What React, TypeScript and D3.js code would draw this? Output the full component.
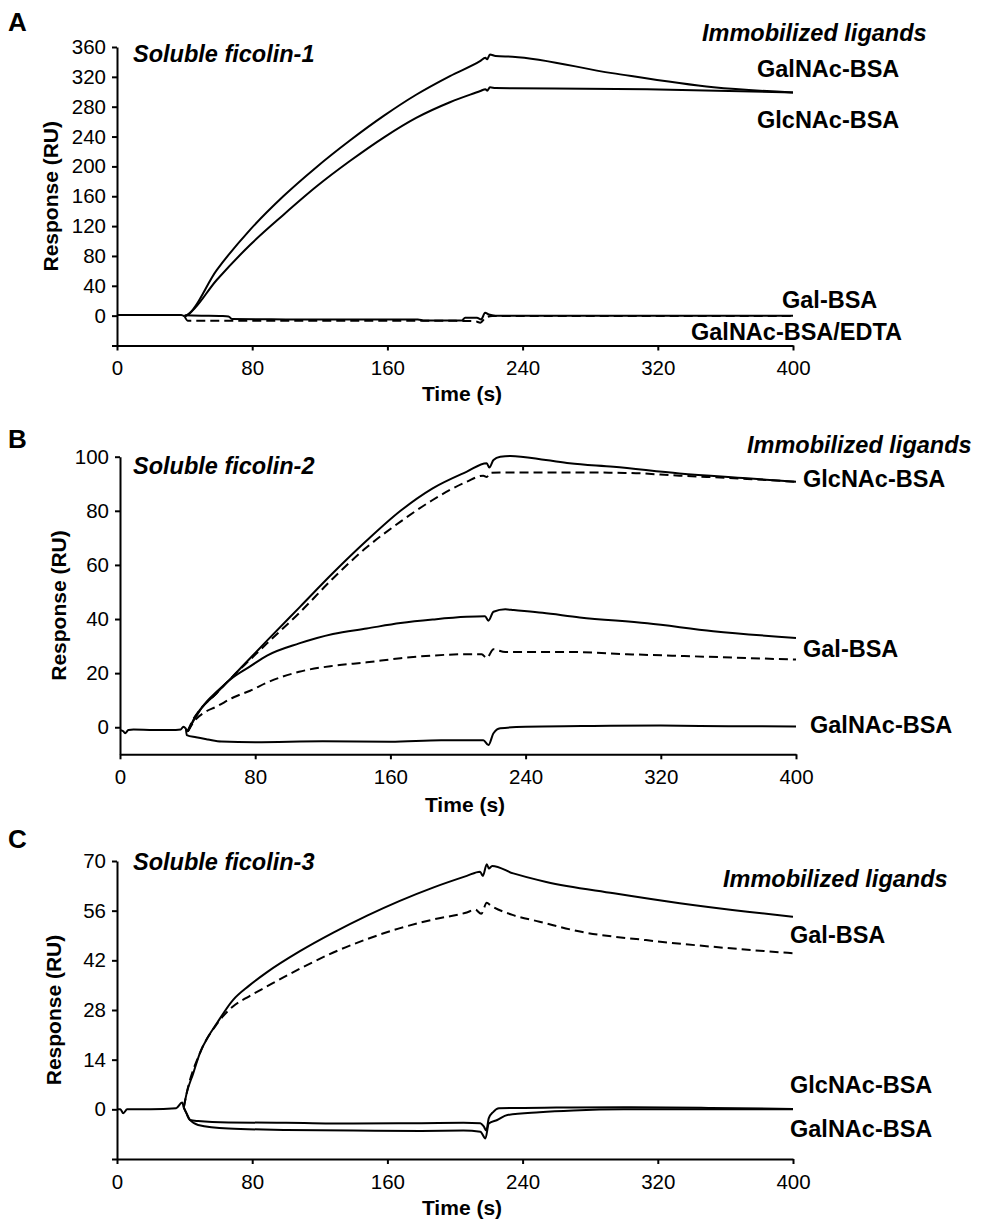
import React, { useEffect, useRef } from 'react'
import * as d3 from 'd3'

// ---- data: [time (s), response (RU)] ----
const timeTicks = [0, 80, 160, 240, 320, 400]

// panel A - soluble ficolin-1
const ticksA = [-40, 0, 40, 80, 120, 160, 200, 240, 280, 320, 360]
const preA = [[0, 0.8], [10, 0.9], [20, 1], [30, 1], [38, 1], [40, -1]]
const galnacA = [[40, -1], [41, 0], [59, 61], [78.7, 115], [98.4, 160], [118, 199], [138, 235], [158, 268], [177, 296], [197, 321], [214.8, 341], [218, 345.5], [219, 343.5], [220.7, 350], [224, 348], [234, 347], [293, 325], [353, 306], [400, 299]]
const glcnacA = [[40, -1], [41, 0], [59, 47.8], [78.7, 94.7], [98.4, 135], [118, 173], [138, 207.5], [158, 239], [177, 265], [197, 286], [215, 301], [218, 303.5], [219, 301.5], [220.7, 306], [224, 305], [234, 304.8], [313.6, 303.4], [400, 299]]
const galA = [[40, 0.5], [50, 0], [62, -0.5], [66, -1], [68, -4.5], [100, -5], [140, -5], [178, -5], [182, -6.5], [204, -6.5], [206, -2.7], [213, -2.7], [215.5, -5], [217.8, 4], [220, 1.5], [224, 0], [300, 0], [400, 0]]
const edtaA = [[40, -1], [42, -7], [100, -7], [150, -7], [200, -7], [212, -7.5], [215, -9.5], [218, -3], [222, -0.5], [260, -0.5], [400, -0.5]]

// panel B - soluble ficolin-2
const ticksB = [0, 20, 40, 60, 80, 100]
const preB = [[0, -1], [2, -1.5], [3, -2.2], [5, -1], [8, -0.8], [20, -1], [30, -1], [36, -0.8], [37.5, 0.2], [39, -0.5]]
const glcnacB = [[39, -0.5], [40, -1.5], [43.4, 2.7], [47.3, 6.4], [57, 12.5], [67, 19], [77, 25.5], [87, 32], [106.5, 44.5], [126, 57], [146, 69], [166, 80], [185, 88.3], [205, 94.4], [217, 97.6], [218.5, 96], [221, 98.8], [225, 100], [231, 100.3], [252, 98.8], [266, 97.6], [292, 96.3], [331, 93.8], [371, 92], [400, 90.7]]
const glcnacEdtaB = [[40, -1.5], [43.4, 3], [47.3, 6.5], [57, 12.5], [67, 19], [77, 25], [87, 31], [106.5, 42.5], [126, 55], [146, 66.5], [166, 76], [185, 84], [205, 90.7], [215, 93], [217, 92.5], [219, 94], [225, 94.2], [260, 94.2], [300, 94], [331, 93], [371, 91.8], [400, 90.7]]
const galB = [[40, -1.5], [45, 4], [50, 8.5], [57, 13], [67, 18.5], [77, 22.5], [87, 26.5], [106, 31], [126, 34.5], [146, 36.5], [166, 38.5], [185, 39.8], [205, 40.8], [216, 41], [218, 39.4], [221, 42.7], [228, 43.6], [233, 43.3], [250, 42.3], [272, 40.6], [312, 38.4], [351, 35.5], [400, 33]]
const galEdtaB = [[40, -1.5], [45, 3], [50, 5.5], [57, 7.6], [67, 11], [77, 13.5], [87, 16.5], [106, 20.5], [126, 22.7], [146, 24], [166, 25.5], [185, 26.5], [205, 27], [214, 27], [217, 25.6], [221, 28.8], [228, 27.8], [266, 27.8], [300, 27], [340, 26.2], [400, 25]]
const galnacB = [[39, -0.5], [39.5, -2.9], [45, -3.7], [52, -4.5], [60, -5.3], [80, -5.5], [120, -5.2], [160, -5.4], [190, -4.8], [215, -4.8], [218, -6.6], [221, -2.2], [225, -0.4], [240, 0.2], [280, 0.5], [320, 0.6], [360, 0.4], [400, 0.3]]

// panel C - soluble ficolin-3
const ticksC = [-14, 0, 14, 28, 42, 56, 70]
const preC = [[0, 0], [2, 0], [3.7, -1.1], [6, 0], [20, 0], [35, 0.3], [38.5, 1.9], [39.5, 0.5]]
const galC = [[39.5, 0.5], [41.2, 4.5], [45, 10], [49, 15.8], [54, 20.5], [59, 24.2], [68.6, 30.8], [78, 34.8], [88.6, 38.6], [108, 44.5], [128, 49.8], [148, 54.6], [167, 58.7], [187, 62.5], [207, 65.8], [214.8, 67], [216.5, 65.8], [218.8, 69.1], [220, 67.9], [222, 68.6], [234.5, 66.5], [254, 64.1], [294, 60.9], [333, 58.1], [373, 55.7], [400, 54.3]]
const galEdtaC = [[39.5, 0.5], [41.2, 4.5], [49, 15.8], [59, 24], [68.6, 29], [78, 31.8], [88.6, 34.6], [108, 39.6], [128, 44.2], [148, 48], [167, 51], [187, 53.5], [207, 55.5], [212, 56.3], [215.5, 55.1], [218.8, 58.2], [221, 57.5], [234, 54.8], [250, 52.9], [274, 50.1], [313, 47.7], [353, 45.8], [400, 44]]
const glcnacC = [[39.5, 0.5], [41, -1], [43.2, -3], [48, -3.3], [66, -3.7], [100, -3.8], [140, -4], [180, -3.9], [205, -3.8], [215, -3.9], [217, -4.8], [218.5, -6], [220, -2.5], [222.7, -0.7], [226, 0.3], [260, 0.5], [300, 0.6], [350, 0.4], [400, 0.1]]
const galnacC = [[39.5, 0.5], [41, -1], [43.2, -3], [48, -4.4], [66, -5.4], [100, -5.8], [140, -6], [180, -6.1], [205, -6], [215, -6.3], [218, -8.2], [220, -4], [225, -3], [231, -1.6], [250, -0.8], [270, -0.3], [300, 0], [400, 0]]

const FONT = '"Liberation Sans", Arial, Helvetica, sans-serif'

const panels = [
     {
          letter: 'A', letterY: 31, title: 'Soluble ficolin-1', titleY: 61.5,
          xRange: [117, 793], yDomain: [-40, 360], yRange: [345.5, 47], yTicks: ticksA,
          yTitleX: 57.5, xTitleY: 401,
          series: [
               { data: preA, dashed: false },
               { data: galnacA, dashed: false },
               { data: glcnacA, dashed: false },
               { data: edtaA, dashed: true },
               { data: galA, dashed: false },
          ],
          labels: [
               { text: 'Immobilized ligands', x: 702, y: 40.5, italic: true },
               { text: 'GalNAc-BSA', x: 757, y: 76.5 },
               { text: 'GlcNAc-BSA', x: 757, y: 127.5 },
               { text: 'Gal-BSA', x: 782, y: 308 },
               { text: 'GalNAc-BSA/EDTA', x: 691, y: 339.5 },
          ],
     },
     {
          letter: 'B', letterY: 448, title: 'Soluble ficolin-2', titleY: 474,
          xRange: [120, 796], yDomain: [-10, 100], yRange: [754.3, 456.7], yTicks: ticksB,
          yTitleX: 66, xTitleY: 812,
          series: [
               { data: preB, dashed: false },
               { data: glcnacEdtaB, dashed: true },
               { data: glcnacB, dashed: false },
               { data: galEdtaB, dashed: true },
               { data: galB, dashed: false },
               { data: galnacB, dashed: false },
          ],
          labels: [
               { text: 'Immobilized ligands', x: 747, y: 453, italic: true },
               { text: 'GlcNAc-BSA', x: 803, y: 487 },
               { text: 'Gal-BSA', x: 803, y: 657 },
               { text: 'GalNAc-BSA', x: 810, y: 733 },
          ],
     },
     {
          letter: 'C', letterY: 848, title: 'Soluble ficolin-3', titleY: 870,
          xRange: [117, 793], yDomain: [-14, 70], yRange: [1159, 861], yTicks: ticksC,
          yTitleX: 61, xTitleY: 1215,
          series: [
               { data: preC, dashed: false },
               { data: galEdtaC, dashed: true },
               { data: galC, dashed: false },
               { data: glcnacC, dashed: false },
               { data: galnacC, dashed: false },
          ],
          labels: [
               { text: 'Immobilized ligands', x: 723, y: 887, italic: true },
               { text: 'Gal-BSA', x: 790, y: 943 },
               { text: 'GlcNAc-BSA', x: 790, y: 1093 },
               { text: 'GalNAc-BSA', x: 790, y: 1137 },
          ],
     },
]

const App = () => {
     const svgRef = useRef<SVGSVGElement | null>(null)

     useEffect(() => {
          const svg = d3.select(svgRef.current)
          svg.selectAll('*').remove()

          panels.forEach((p) => {
               const x = d3.scaleLinear().domain([0, 400]).range(p.xRange)
               const y = d3.scaleLinear().domain(p.yDomain).range(p.yRange)
               const g = svg.append('g')

               const line = d3
                    .line<number[]>()
                    .x((d) => x(d[0]))
                    .y((d) => y(d[1]))
                    .curve(d3.curveMonotoneX)

               p.series.forEach((s) => {
                    g.append('path')
                         .attr('d', line(s.data))
                         .attr('fill', 'none')
                         .attr('stroke', '#000')
                         .attr('stroke-width', 2)
                         .attr('stroke-linejoin', 'round')
                         .attr('stroke-dasharray', s.dashed ? '9,5' : null)
               })

               const xAxis = g
                    .append('g')
                    .attr('transform', `translate(0,${p.yRange[0]})`)
                    .call(
                         d3.axisBottom(x).tickValues(timeTicks).tickSize(5).tickSizeOuter(0).tickPadding(10)
                    )
               const yAxis = g
                    .append('g')
                    .attr('transform', `translate(${p.xRange[0]},0)`)
                    .call(
                         d3
                              .axisLeft(y)
                              .tickValues(p.yTicks)
                              .tickSize(5)
                              .tickSizeOuter(0)
                              .tickPadding(6)
                              .tickFormat((d) => (+d < 0 ? '' : String(d)))
                    )
               ;[xAxis, yAxis].forEach((a) => {
                    a.attr('font-family', FONT).attr('font-size', 20.5)
                    a.selectAll('path, line').attr('stroke', '#000').attr('stroke-width', 2)
                    a.selectAll('text').attr('fill', '#000')
               })

               g.append('text')
                    .attr('x', 8)
                    .attr('y', p.letterY)
                    .style('font-family', FONT)
                    .style('font-size', '26px')
                    .style('font-weight', 'bold')
                    .text(p.letter)

               g.append('text')
                    .attr('x', 133)
                    .attr('y', p.titleY)
                    .style('font-family', FONT)
                    .style('font-size', '23.5px')
                    .style('font-weight', 'bold')
                    .style('font-style', 'italic')
                    .text(p.title)

               g.append('text')
                    .attr(
                         'transform',
                         `translate(${p.yTitleX},${(p.yRange[0] + p.yRange[1]) / 2}) rotate(-90)`
                    )
                    .attr('text-anchor', 'middle')
                    .style('font-family', FONT)
                    .style('font-size', '21px')
                    .style('font-weight', 'bold')
                    .text('Response (RU)')

               g.append('text')
                    .attr('x', (p.xRange[0] + p.xRange[1]) / 2 + 7)
                    .attr('y', p.xTitleY)
                    .attr('text-anchor', 'middle')
                    .style('font-family', FONT)
                    .style('font-size', '21px')
                    .style('font-weight', 'bold')
                    .text('Time (s)')

               p.labels.forEach((l) => {
                    g.append('text')
                         .attr('x', l.x)
                         .attr('y', l.y)
                         .style('font-family', FONT)
                         .style('font-size', '23.5px')
                         .style('font-weight', 'bold')
                         .style('font-style', l.italic ? 'italic' : 'normal')
                         .text(l.text)
               })
          })
     }, [])

     return (
          <svg
               ref={svgRef}
               width={984}
               height={1223}
               style={{ position: 'absolute', left: 0, top: 0, background: '#fff', display: 'block' }}
          />
     )
}

export default App
